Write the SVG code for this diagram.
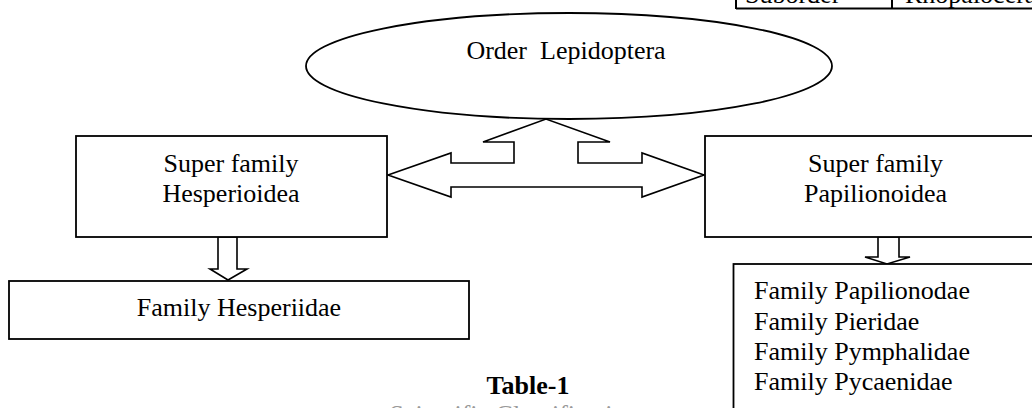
<svg xmlns="http://www.w3.org/2000/svg" width="1032" height="408" viewBox="0 0 1032 408">
<style>
.t{font-family:"Liberation Serif","Times New Roman",serif;font-size:26px;fill:#000}
.b{font-weight:bold}
.box{fill:#fff;stroke:#000;stroke-width:1.8}
.arr{fill:#fff;stroke:#000;stroke-width:1.6;stroke-linejoin:miter}
</style>
<rect width="1032" height="408" fill="#fff"/>
<g id="table-fragment">
<line x1="736" y1="8.5" x2="1032" y2="8.5" stroke="#000" stroke-width="2"/>
<line x1="736" y1="0" x2="736" y2="9" stroke="#000" stroke-width="2"/>
<line x1="892" y1="0" x2="892" y2="9" stroke="#000" stroke-width="2"/>
<text class="t" x="745" y="3">Suborder</text>
<text class="t" x="905" y="3">Rhopalocera</text>
</g>
<g id="connectors">
<polygon class="arr" points="388,175 451,153 451,163 514,163 514,142 483,142 546,119 610,142 578,142 578,163 642,163 642,153 704,175 642,197 642,187 451,187 451,197"/>
<polygon class="arr" points="218,237 237,237 237,269 247,269 228,280 210,269 218,269"/>
<polygon class="arr" points="878,237 899,237 899,257 910,257 887,264 865,257 878,257"/>
</g>
<g id="order">
<ellipse class="box" cx="569" cy="66" rx="263" ry="53"/>
<text class="t" x="566" y="59" text-anchor="middle" xml:space="preserve">Order  Lepidoptera</text>
</g>
<g id="hesperioidea">
<rect class="box" x="76" y="136" width="311" height="101"/>
<text class="t" x="231" y="172" text-anchor="middle">Super family</text>
<text class="t" x="231" y="202" text-anchor="middle">Hesperioidea</text>
</g>
<g id="papilionoidea">
<rect class="box" x="705" y="136" width="341" height="101"/>
<text class="t" x="875.5" y="172" text-anchor="middle">Super family</text>
<text class="t" x="875.5" y="202" text-anchor="middle">Papilionoidea</text>
</g>
<g id="hesperiidae">
<rect class="box" x="9" y="281" width="460" height="58"/>
<text class="t" x="239" y="316" text-anchor="middle">Family Hesperiidae</text>
</g>
<g id="papilionoidea-families">
<rect class="box" x="733.5" y="264" width="320" height="160"/>
<text class="t" x="754" y="299">Family Papilionodae</text>
<text class="t" x="754" y="330">Family Pieridae</text>
<text class="t" x="754" y="360">Family Pymphalidae</text>
<text class="t" x="754" y="390">Family Pycaenidae</text>
</g>
<g id="caption">
<text class="t b" x="528" y="394" text-anchor="middle">Table-1</text>
<text class="t" x="514" y="423" text-anchor="middle" fill="#999" style="fill:#999">Scientific Classification</text>
</g>
</svg>
